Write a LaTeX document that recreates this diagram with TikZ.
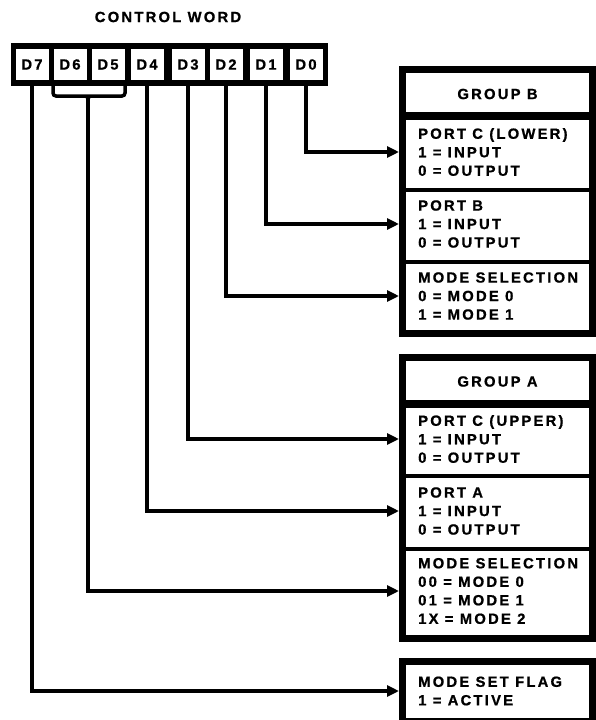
\documentclass[tikz,border=0pt]{standalone}
\usepackage{fontspec}
\setmainfont{Liberation Sans}[LetterSpace=15,BoldFeatures={FakeBold=0.8}]
\usetikzlibrary{arrows.meta}
\begin{document}
\begin{tikzpicture}[x=1pt,y=-1pt,
  font=\fontsize{14.8}{18.5}\selectfont\bfseries,
  cell/.style={fill=white, minimum width=33pt, minimum height=31pt, inner sep=0pt},
  frame/.style={draw, line width=7pt, inner sep=0pt, fill=white},
  sect/.style={anchor=west, align=left, inner sep=0pt},
  hdr/.style={inner sep=0pt},
  conn/.style={line width=4pt, line join=miter, -{Triangle[length=12pt,width=11pt]}},
  divthick/.style={line width=8pt},
  divthin/.style={line width=4pt}]
\useasboundingbox (0,0) rectangle (596,720);

% title
\node[hdr] (title) at (168,17) {CONTROL WORD};

% control word register
\node[fill=black, minimum width=317pt, minimum height=43pt, inner sep=0pt] (cw) at (169.5,64.5) {};
\node[cell] (d7) at (32,64.5) {D7};
\node[cell] (d6) at (70,64.5) {D6};
\node[cell] (d5) at (108,64.5) {D5};
\node[cell] (d4) at (147,64.5) {D4};
\node[cell] (d3) at (188,64.5) {D3};
\node[cell] (d2) at (226,64.5) {D2};
\node[cell] (d1) at (266,64.5) {D1};
\node[cell] (d0) at (306,64.5) {D0};

% brace under D6 D5
\draw[line width=3.5pt, rounded corners=3pt] (53,86) -- (53,96) -- (125,96) -- (125,86);
\fill (83,95) -- (93,95) -- (88,101) -- cycle;
\coordinate (br) at (88,98);

% frames
\node[frame, minimum width=190pt, minimum height=264pt] (gB) at (497.5,201.5) {};
\node[frame, minimum width=190pt, minimum height=281pt] (gA) at (497.5,498) {};
\node[frame, minimum width=190pt, minimum height=60pt] (gF) at (497.5,691.5) {};

% dividers
\draw[divthick] (399,116) -- (596,116);
\draw[divthin] (399,189.5) -- (596,189.5);
\draw[divthin] (399,261.5) -- (596,261.5);
\draw[divthick] (399,404) -- (596,404);
\draw[divthin] (399,475.5) -- (596,475.5);
\draw[divthin] (399,549) -- (596,549);

% headers
\node[hdr] (hB) at (497.5,94) {GROUP B};
\node[hdr] (hA) at (497.5,381.5) {GROUP A};

% sections
\node[sect] (pcl) at (418,152) {PORT C (LOWER)\\1 = INPUT\\0 = OUTPUT};
\node[sect] (pb) at (418,224) {PORT B\\1 = INPUT\\0 = OUTPUT};
\node[sect] (msB) at (418,296) {MODE SELECTION\\0 = MODE 0\\1 = MODE 1};
\node[sect] (pcu) at (418,439) {PORT C (UPPER)\\1 = INPUT\\0 = OUTPUT};
\node[sect] (pa) at (418,511) {PORT A\\1 = INPUT\\0 = OUTPUT};
\node[sect] (msA) at (418,591) {MODE SELECTION\\00 = MODE 0\\01 = MODE 1\\1X = MODE 2};
\node[sect] (flag) at (418,691) {MODE SET FLAG\\1 = ACTIVE};

% connectors
\draw[conn] (d0.south) |- (pcl.west -| gB.west);
\draw[conn] (d1.south) |- (pb.west -| gB.west);
\draw[conn] (d2.south) |- (msB.west -| gB.west);
\draw[conn] (d3.south) |- (pcu.west -| gA.west);
\draw[conn] (d4.south) |- (pa.west -| gA.west);
\draw[conn] (br) |- (msA.west -| gA.west);
\draw[conn] (d7.south) |- (flag.west -| gF.west);
\end{tikzpicture}
\end{document}
